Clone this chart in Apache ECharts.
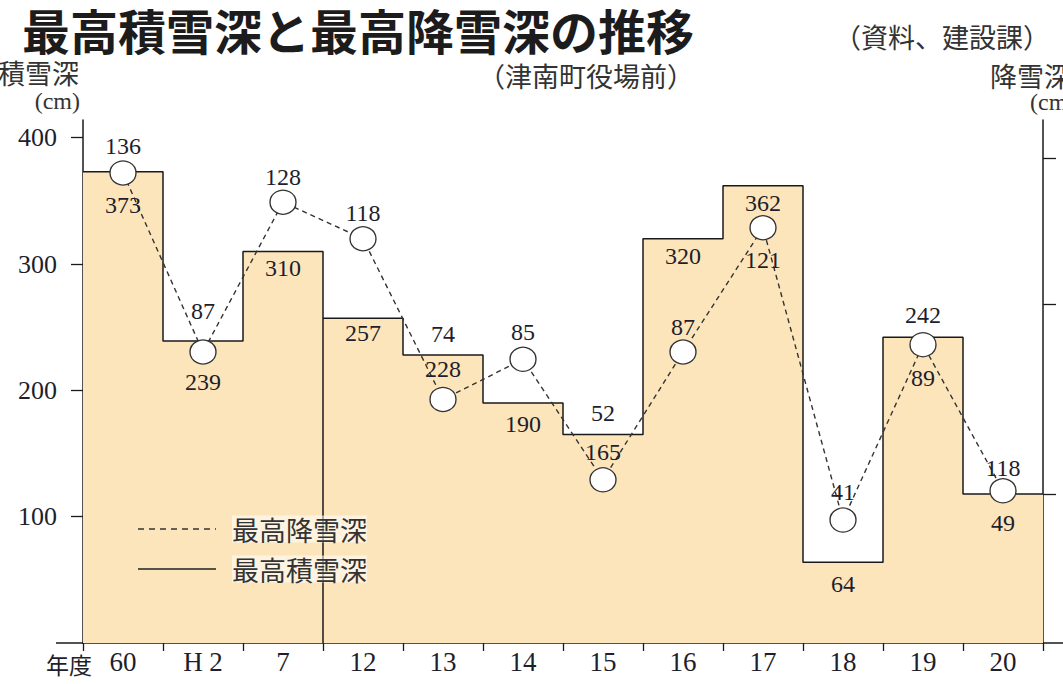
<!DOCTYPE html>
<html>
<head>
<meta charset="utf-8">
<script src="https://cdn.jsdelivr.net/npm/echarts@6/dist/echarts.min.js"></script>
<style>
html,body{margin:0;padding:0;background:#ffffff;}
#chart{width:1063px;height:684px;}
</style>
</head>
<body>
<div id="chart"></div>
<script>
// ---- data ----
const categories = ['60', 'H 2', '7', '12', '13', '14', '15', '16', '17', '18', '19', '20'];
const maxSnowDepth = [373, 239, 310, 257, 228, 190, 165, 320, 362, 64, 242, 118];   // 最高積雪深 (cm)
const maxSnowfall  = [136, 87, 128, 118, 74, 85, 52, 87, 121, 41, 89, 49];           // 最高降雪深 (cm)
const leftTickValues  = [100, 200, 300, 400];
const rightTickValues = [48, 100, 140];

// ---- label placement (pixel offsets, style only) ----
const depthLabelDy = [33, 41, 17, 15, 14, 21, 17, 17, 17, 22, -22, -26];
const fallLabelDy  = [-27, -41, -25, -26, -65, -27, -67, -25, 32, -28, 33, 32];

const FONT_NUM = '"Liberation Serif","DejaVu Serif",serif';
const FONT_CJK = '"Noto Sans CJK JP","Noto Sans CJK SC",sans-serif';
const TXT = '#1e1e2c';
const INK = '#1a1a1a';

const n = categories.length;
const stepData = [];
maxSnowDepth.forEach((v, i) => { stepData.push([i, v], [i + 1, v]); });
const divIdx = categories.indexOf('12');
const dividerData = [[divIdx, 0], [divIdx, Math.min(maxSnowDepth[divIdx - 1], maxSnowDepth[divIdx])]];

const chart = echarts.init(document.getElementById('chart'), null, {renderer: 'svg'});

const option = {
  animation: false,
  backgroundColor: '#ffffff',
  grid: {left: 83, right: 20, top: 120, bottom: 41, containLabel: false},
  xAxis: [
    {
      type: 'category', data: categories, boundaryGap: true, position: 'bottom',
      axisLine: {onZero: false, lineStyle: {color: INK, width: 1.5}},
      axisTick: {show: true, length: 8, inside: false, alignWithLabel: false, lineStyle: {color: INK, width: 1.3}},
      axisLabel: {fontFamily: FONT_NUM, fontSize: 27, color: TXT, margin: 5},
      splitLine: {show: false}
    },
    {type: 'value', min: 0, max: n, show: false, axisLine: {onZero: false}}
  ],
  yAxis: [
    {
      type: 'value', min: 0, max: 414, position: 'left',
      axisLine: {show: true, onZero: false, lineStyle: {color: INK, width: 1.5}},
      axisTick: {show: true, length: 12, customValues: leftTickValues, lineStyle: {color: INK, width: 1.3}},
      axisLabel: {customValues: leftTickValues, fontFamily: FONT_NUM, fontSize: 26, color: TXT, margin: 26},
      splitLine: {show: false}
    },
    {
      type: 'value', min: 7.34, max: 150.5, position: 'right',
      axisLine: {show: true, onZero: false, lineStyle: {color: INK, width: 1.5}},
      axisTick: {show: true, length: 13, customValues: rightTickValues, lineStyle: {color: INK, width: 1.3}},
      axisLabel: {show: false},
      splitLine: {show: false}
    }
  ],
  series: [
    {
      name: '最高積雪深', type: 'line', xAxisIndex: 1, yAxisIndex: 0,
      data: stepData, symbol: 'none', silent: true,
      lineStyle: {color: INK, width: 1.5},
      areaStyle: {color: '#fce5ba', opacity: 1},
      z: 2
    },
    {
      type: 'line', xAxisIndex: 1, yAxisIndex: 0, data: dividerData, symbol: 'none', silent: true,
      lineStyle: {color: INK, width: 1.5}, z: 3
    },
    {
      type: 'scatter', xAxisIndex: 1, yAxisIndex: 0, silent: true,
      data: maxSnowDepth.map((v, i) => ({value: [i + 0.5, v], label: {offset: [0, depthLabelDy[i]]}})),
      symbolSize: 1, itemStyle: {color: 'rgba(0,0,0,0)', opacity: 1},
      label: {show: true, position: 'inside', formatter: p => p.value[1],
        fontFamily: FONT_NUM, fontSize: 24, color: TXT, opacity: 1, textBorderWidth: 0},
      z: 6
    },
    {
      name: '最高降雪深', type: 'line', xAxisIndex: 1, yAxisIndex: 1,
      data: maxSnowfall.map((v, i) => ({value: [i + 0.5, v], label: {offset: [0, fallLabelDy[i]]}})),
      symbol: 'circle', symbolSize: [26, 24], showAllSymbol: true,
      itemStyle: {color: '#ffffff', borderColor: '#333333', borderWidth: 1.3},
      lineStyle: {color: '#333333', width: 1.4, type: [5, 4]},
      label: {show: true, position: 'inside', formatter: p => p.value[1],
        fontFamily: FONT_NUM, fontSize: 24, color: TXT, textBorderWidth: 0},
      z: 5
    }
  ],
  graphic: [
    {type: 'text', x: 22, y: 29, z: 10, style: {text: '最高積雪深と最高降雪深の推移', fontFamily: FONT_CJK, fontSize: 48, fontWeight: 'bold', fill: '#1c1c1c', verticalAlign: 'middle', align: 'left'}},
    {type: 'text', x: 834, y: 36, z: 10, style: {text: '（資料、建設課）', fontFamily: FONT_CJK, fontSize: 27, fill: '#333', verticalAlign: 'middle', align: 'left'}},
    {type: 'text', x: 478, y: 75, z: 10, style: {text: '（津南町役場前）', fontFamily: FONT_CJK, fontSize: 27, fill: '#333', verticalAlign: 'middle', align: 'left'}},
    {type: 'text', x: 79, y: 72, z: 10, style: {text: '積雪深', fontFamily: FONT_CJK, fontSize: 27, fill: '#333', verticalAlign: 'middle', align: 'right'}},
    {type: 'text', x: 80, y: 101, z: 10, style: {text: '(cm)', fontFamily: FONT_NUM, fontSize: 24, fill: '#333', verticalAlign: 'middle', align: 'right'}},
    {type: 'text', x: 990, y: 75, z: 10, style: {text: '降雪深', fontFamily: FONT_CJK, fontSize: 27, fill: '#333', verticalAlign: 'middle', align: 'left'}},
    {type: 'text', x: 1030, y: 102, z: 10, style: {text: '(cm)', fontFamily: FONT_NUM, fontSize: 24, fill: '#333', verticalAlign: 'middle', align: 'left'}},
    {type: 'text', x: 46, y: 664, z: 10, style: {text: '年度', fontFamily: FONT_CJK, fontSize: 23, fill: TXT, verticalAlign: 'middle', align: 'left'}},
    {type: 'line', z: 10, shape: {x1: 56, y1: 643, x2: 83, y2: 643}, style: {stroke: INK, lineWidth: 1.5}},
    {type: 'line', z: 10, shape: {x1: 1043, y1: 643, x2: 1063, y2: 643}, style: {stroke: INK, lineWidth: 1.5}},
    // legend
    {type: 'line', z: 10, shape: {x1: 138, y1: 529, x2: 216, y2: 529}, style: {stroke: '#333', lineWidth: 1.4, lineDash: [6, 5]}},
    {type: 'text', x: 232, y: 529, z: 10, style: {text: '最高降雪深', fontFamily: FONT_CJK, fontSize: 27, fill: '#333', verticalAlign: 'middle', align: 'left', backgroundColor: 'rgba(255,255,255,0.55)'}},
    {type: 'line', z: 10, shape: {x1: 138, y1: 569, x2: 216, y2: 569}, style: {stroke: '#222', lineWidth: 1.5}},
    {type: 'text', x: 232, y: 569, z: 10, style: {text: '最高積雪深', fontFamily: FONT_CJK, fontSize: 27, fill: '#333', verticalAlign: 'middle', align: 'left', backgroundColor: 'rgba(255,255,255,0.55)'}}
  ]
};
chart.setOption(option);
</script>
</body>
</html>
